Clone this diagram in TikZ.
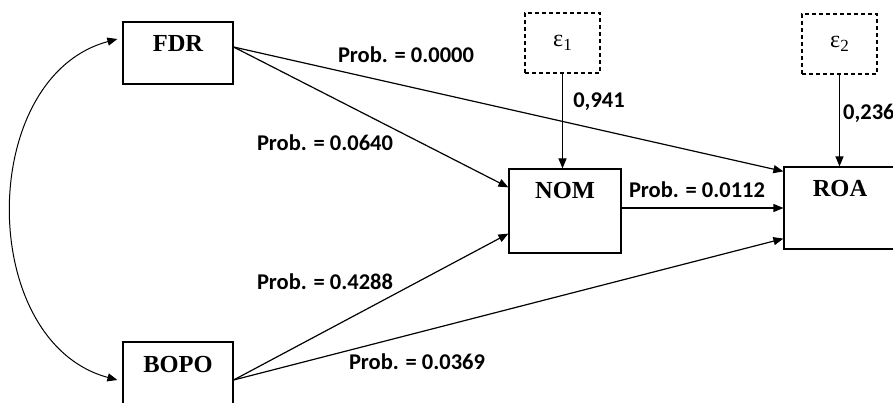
\documentclass[tikz,border=0pt]{standalone}
\usepackage{fontspec}
\setmainfont{Liberation Serif}
\newfontfamily\probfont{Carlito}
\usetikzlibrary{arrows.meta}

\tikzset{
    varbox/.style={draw, line width=1.2pt, inner sep=0pt, text height=30pt,
        font=\fontsize{24.5}{28}\selectfont\bfseries},
    errbox/.style={draw, dash pattern=on 4pt off 3pt, line width=1.2pt,
        minimum width=75pt, minimum height=60pt, inner sep=0pt,
        font=\fontsize{24}{28}\selectfont},
    arrowline/.style={-{Triangle[length=10pt,width=8pt]}, line width=1.2pt},
    problabel/.style={inner sep=0pt, font=\probfont\bfseries\fontsize{22.5}{26}\selectfont},
}

\begin{document}
\begin{tikzpicture}[x=1pt, y=-1pt]
        \useasboundingbox (0, 0) rectangle (893, 403);

        % variables
        \node[varbox, minimum width=110pt, text depth=32pt] (fdr) at (178, 53) {FDR};
        \node[varbox, minimum width=110pt, text depth=32pt] (bopo) at (178, 373) {BOPO};
        \node[varbox, minimum width=112pt, text depth=54pt] (nom) at (565, 211) {NOM};
        \node[varbox, minimum width=112pt, text depth=52pt] (roa) at (840, 208) {ROA};

        % error terms
        \node[errbox] (e1) at (562.5, 43) {ε\raisebox{-4pt}{\fontsize{17}{20}\selectfont 1}};
        \node[errbox] (e2) at (839.5, 44) {ε\raisebox{-4pt}{\fontsize{17}{20}\selectfont 2}};

        \draw[arrowline] (e1.south) -- (e1.south |- nom.north);
        \draw[arrowline] (e2.south) -- (e2.south |- roa.north);

        % paths
        \draw[arrowline] ([yshift=6pt]fdr.east) -- ([yshift=-5pt]roa.north west);
        \draw[arrowline] ([yshift=6pt]fdr.east) -- ([yshift=-19pt]nom.north west);
        \draw[arrowline] ([yshift=-7pt]bopo.east) -- ([yshift=20pt]nom.south west);
        \draw[arrowline] ([yshift=-7pt]bopo.east) -- ([yshift=11pt]roa.south west);
        \draw[arrowline] ([yshift=3pt]nom.east) -- ([yshift=3pt]nom.east -| roa.west);

        % correlation
        \draw[{Triangle[length=10pt,width=8pt]}-{Triangle[length=10pt,width=8pt]}, line width=1pt]
            ([xshift=-5pt, yshift=14pt]fdr.west) .. controls +(-141, 38) and +(-141, -38)
            .. ([xshift=-5pt, yshift=-7pt]bopo.west);

        % labels
        \node[problabel] (pfr) at (406, 55) {Prob. = 0.0000};
        \node[problabel] (pfn) at (325, 143) {Prob. = 0.0640};
        \node[problabel] (pbn) at (325, 282) {Prob. = 0.4288};
        \node[problabel] (pbr) at (417, 362) {Prob. = 0.0369};
        \node[problabel] (pnr) at (697, 190) {Prob. = 0.0112};
        \node[problabel] (le1) at (599, 102) {0,941};
        \node[problabel, anchor=west] (le2) at (843, 113) {0,236};
\end{tikzpicture}
\end{document}
